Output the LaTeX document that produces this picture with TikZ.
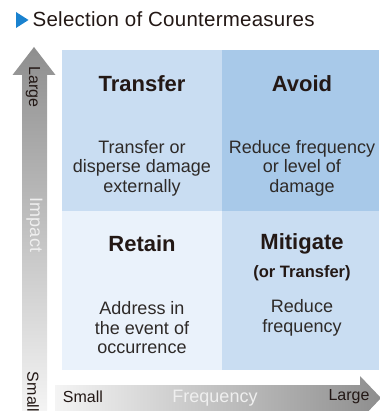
\documentclass[tikz,border=0pt]{standalone}
\usepackage{fontspec}
\setmainfont{Liberation Sans}
\definecolor{cellA}{HTML}{C9DDF2}
\definecolor{cellB}{HTML}{A8C9E9}
\definecolor{cellC}{HTML}{EAF2FB}
\definecolor{ink}{HTML}{231815}
\definecolor{bodyink}{HTML}{2E2A28}
\definecolor{arrowdark}{HTML}{8E8E8E}
\definecolor{arrowmid}{HTML}{B4B4B4}
\definecolor{arrowlight}{HTML}{F4F4F4}
\definecolor{axislabel}{HTML}{EFEFEF}
\definecolor{titleblue}{HTML}{1A82CF}
\tikzset{
  heading/.style={font=\fontsize{22}{26}\selectfont\bfseries, text=ink, inner sep=0pt},
  subheading/.style={font=\fontsize{16.5}{19}\selectfont\bfseries, text=ink, inner sep=0pt},
  bodytext/.style={font=\fontsize{18}{19.5}\selectfont, text=bodyink, align=center, inner sep=0pt},
  axisend/.style={font=\fontsize{16}{19}\selectfont, text=ink, inner sep=0pt},
  axisname/.style={font=\fontsize{18}{21}\selectfont, text=axislabel, inner sep=0pt},
}
\begin{document}
\begin{tikzpicture}[x=1pt,y=-1pt]
\useasboundingbox (0,0) rectangle (379,411);
% title
\fill[titleblue] (16,12) -- (28.5,20) -- (16,28) -- cycle;
\node[anchor=base west, inner sep=0pt, text=ink, font=\fontsize{20.5}{24}\selectfont\addfontfeature{LetterSpace=1.2}] (title) at (32.5,27) {Selection of Countermeasures};
% cells
\fill[cellA] (62,50) rectangle (222,211);
\fill[cellB] (222,50) rectangle (379,211);
\fill[cellC] (62,211) rectangle (222,370);
\fill[cellA] (222,211) rectangle (379,370);
% vertical arrow
\shade[top color=arrowdark, middle color=arrowmid, bottom color=arrowlight]
  (34,47) -- (55.5,75) -- (47,75) -- (47,411) -- (22,411) -- (22,75) -- (12.5,75) -- cycle;
% horizontal arrow
\shade[left color=arrowlight, middle color=arrowmid, right color=arrowdark]
  (55,385) -- (360,385) -- (360,376) -- (381,398) -- (360,420) -- (360,411) -- (55,411) -- cycle;
% headings
\node[heading] (transfer) at (142,84) {Transfer};
\node[heading] (avoid) at (302,84) {Avoid};
\node[heading] (retain) at (142,244) {Retain};
\node[heading] (mitigate) at (302,244) {Mitigate};
\node[subheading] (ortransfer) at (302,273) {(or Transfer)};
% bodies
\node[bodytext] (tbody) at (142,168) {Transfer or\\disperse damage\\externally};
\node[bodytext] (abody) at (302,168) {Reduce frequency\\or level of\\damage};
\node[bodytext] (rbody) at (142,328) {Address in\\the event of\\occurrence};
\node[bodytext] (mbody) at (302,318) {Reduce\\frequency};
% axis labels
\node[axisend, rotate=-90] (vlarge) at (33,87) {Large};
\node[axisname, rotate=-90] (impact) at (34.5,225) {Impact};
\node[axisend, rotate=-90] (vsmall) at (33,392) {Small};
\node[axisend] (hsmall) at (83,397) {Small};
\node[axisname] (freq) at (215,398) {Frequency};
\node[axisend] (hlarge) at (349,397) {Large};
\end{tikzpicture}
\end{document}
